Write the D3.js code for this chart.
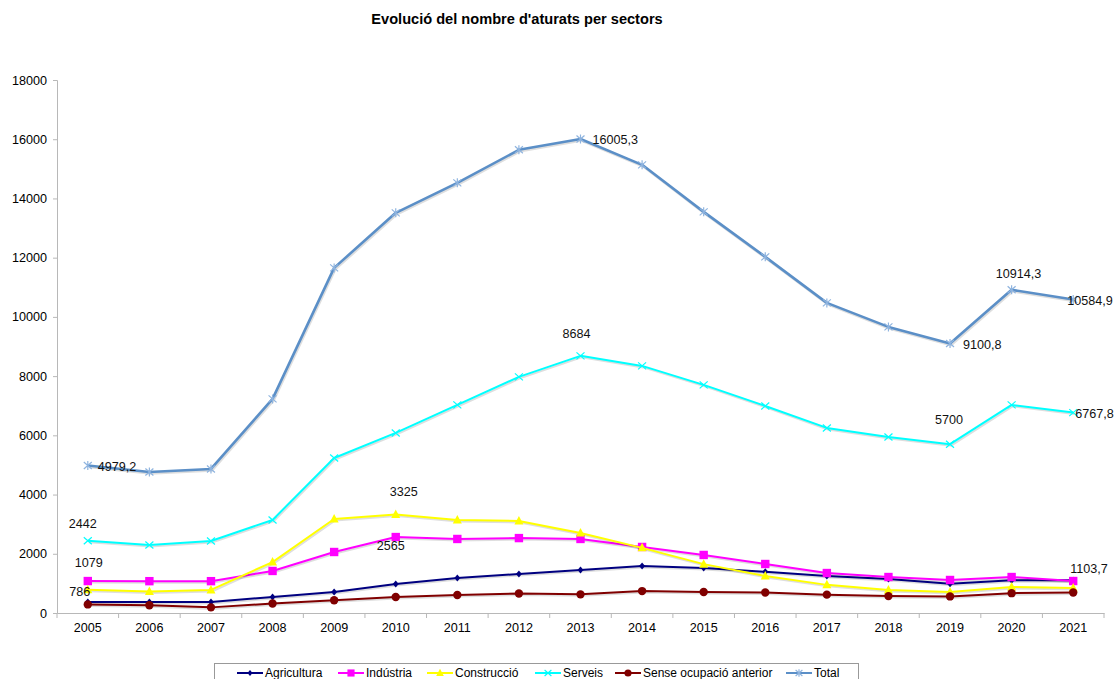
<!DOCTYPE html>
<html><head><meta charset="utf-8">
<script src="https://cdn.jsdelivr.net/npm/d3@7"></script>
<style>
body{margin:0;background:#fff;}
svg text{font-family:"Liberation Sans",Arial,sans-serif;}
</style></head>
<body><svg id="c" width="1114" height="679"></svg>
<script>
const years = ["2005","2006","2007","2008","2009","2010","2011","2012","2013","2014","2015","2016","2017","2018","2019","2020","2021"];
const agricultura = [370,370,370,540,710,980,1180,1320,1450,1590,1520,1390,1250,1150,990,1110,1103.7];
const industria = [1079,1075,1075,1420,2060,2565,2500,2530,2500,2230,1960,1655,1350,1215,1115,1215,1080];
const construccio = [786,725,780,1720,3175,3325,3140,3110,2700,2200,1650,1250,950,780,710,880,845];
const serveis = [2442,2297,2432,3142,5236,6081,7027,7973,8684,8345,7703,6993,6250,5946,5700,7027,6767.8];
const senseOcupacio = [290,260,190,320,430,540,610,660,630,740,710,690,620,570,560,670,690];
const total = [4979.2,4764,4865,7230,11655,13514,14527,15642,16005.3,15135,13547,12027,10473,9662,9100.8,10914.3,10584.9];
const yTicks = [0,2000,4000,6000,8000,10000,12000,14000,16000,18000];
const seriesNames = ["Agricultura","Indústria","Construcció","Serveis","Sense ocupació anterior","Total"];
const title = "Evolució del nombre d'aturats per sectors";
// value labels: [series index, year index, text]
const valueLabels = [
  [5,0,"4979,2"],[3,0,"2442"],[1,0,"1079"],[2,0,"786"],
  [2,5,"3325"],[1,5,"2565"],[5,8,"16005,3"],[3,8,"8684"],
  [5,14,"9100,8"],[5,15,"10914,3"],[5,16,"10584,9"],
  [3,14,"5700"],[3,16,"6767,8"],[0,16,"1103,7"]
];

// style config
const colors = ["#000080","#ff00ff","#ffff00","#00ffff","#800000","#5b8fc7"];
const markerColors = ["#000080","#ff00ff","#ffff00","#00ffff","#800000","#8fb4df"];
const markers = ["diamond","square","triangle","x","circle","star"];
const widths = [2,2,2,2,2,2.6];
// label placement [dx, dy, anchor]
const labelPos = [
  [10,5,"start"],[-5,-13,"middle"],[1,-14,"middle"],[-8,6,"middle"],
  [8,-19,"middle"],[-5,13,"middle"],[12,5,"start"],[-4,-18,"middle"],
  [13,5,"start"],[7,-12,"middle"],[-6,5,"start"],
  [-1,-20,"middle"],[2,5,"start"],[-3,-7,"start"]
];

const data = [agricultura,industria,construccio,serveis,senseOcupacio,total];
const svg = d3.select("#c");
const mLeft=57, mRight=1104, mTop=80, mBottom=613;
const fs = 12.6;

const xb = d3.scaleBand().domain(years).range([mLeft,mRight]).paddingInner(0).paddingOuter(0);
const x = d => xb(d)+xb.bandwidth()/2;
const y = d3.scaleLinear().domain([0,18000]).range([mBottom,mTop]);

svg.append("text").attr("x",517).attr("y",24).attr("text-anchor","middle")
  .attr("font-weight","bold").attr("font-size",14.6).attr("fill","#000").text(title);

const axisColor = "#b8b8b8";
const ya = svg.append("g").attr("transform",`translate(${mLeft},0)`)
  .call(d3.axisLeft(y).tickValues(yTicks).tickSize(4).tickPadding(6).tickFormat(d3.format("d")));
ya.select(".domain").attr("stroke",axisColor);
ya.selectAll(".tick line").attr("stroke",axisColor);
ya.selectAll("text").attr("font-size",fs).attr("fill","#000").attr("font-family","Liberation Sans, Arial, sans-serif");

const xa = svg.append("g").attr("transform",`translate(0,${mBottom})`)
  .call(d3.axisBottom(xb).tickSize(0).tickPadding(10));
xa.select(".domain").attr("stroke",axisColor);
xa.selectAll("text").attr("font-size",fs).attr("fill","#000").attr("font-family","Liberation Sans, Arial, sans-serif");
const edges = years.map(d=>xb(d)).concat([mRight]);
svg.append("g").selectAll("line").data(edges).join("line")
  .attr("x1",d=>d).attr("x2",d=>d).attr("y1",mBottom).attr("y2",mBottom+5).attr("stroke",axisColor);

function drawMarker(g, type, cx, cy, col, scale){
  const s = scale||1;
  if(type==="diamond"){
    g.append("path").attr("d",`M${cx},${cy-3.5*s}L${cx+3*s},${cy}L${cx},${cy+3.5*s}L${cx-3*s},${cy}Z`).attr("fill",col);
  } else if(type==="square"){
    g.append("rect").attr("x",cx-4.2*s).attr("y",cy-4.2*s).attr("width",8.4*s).attr("height",8.4*s).attr("fill",col);
  } else if(type==="triangle"){
    g.append("path").attr("d",`M${cx},${cy-5*s}L${cx+4.5*s},${cy+3.5*s}L${cx-4.5*s},${cy+3.5*s}Z`).attr("fill",col);
  } else if(type==="circle"){
    g.append("circle").attr("cx",cx).attr("cy",cy).attr("r",4.2*s).attr("fill",col);
  } else if(type==="x"){
    g.append("path").attr("d",`M${cx-4*s},${cy-3.5*s}L${cx+4*s},${cy+3.5*s}M${cx-4*s},${cy+3.5*s}L${cx+4*s},${cy-3.5*s}`).attr("stroke",col).attr("stroke-width",1.2);
  } else if(type==="star"){
    g.append("path").attr("d",`M${cx-4*s},${cy-3.5*s}L${cx+4*s},${cy+3.5*s}M${cx-4*s},${cy+3.5*s}L${cx+4*s},${cy-3.5*s}M${cx},${cy-4.5*s}L${cx},${cy+4.5*s}`).attr("stroke",col).attr("stroke-width",1.2);
  }
}

const line = d3.line().x((d,i)=>x(years[i])).y(d=>y(d));
data.forEach((vals,si)=>{
  const g = svg.append("g");
  g.append("path").datum(vals).attr("d",line).attr("fill","none")
    .attr("stroke","rgba(0,0,0,0.13)").attr("stroke-width",widths[si]).attr("transform","translate(1,1.5)");
  g.append("path").datum(vals).attr("d",line).attr("fill","none")
    .attr("stroke",colors[si]).attr("stroke-width",widths[si]).attr("stroke-linejoin","round");
  vals.forEach((v,i)=>drawMarker(g,markers[si],x(years[i]),y(v),markerColors[si]));
});

valueLabels.forEach((l,k)=>{
  const [si,yi,t]=l; const [dx,dy,anc]=labelPos[k];
  svg.append("text").attr("x",x(years[yi])+dx).attr("y",y(data[si][yi])+dy)
    .attr("text-anchor",anc).attr("font-size",fs).attr("fill","#111").text(t);
});

svg.append("rect").attr("x",214.5).attr("y",663.5).attr("width",644).attr("height",30)
  .attr("fill","#fff").attr("stroke","#999");
const legX = [237,338,427,535,615,786];
seriesNames.forEach((n,si)=>{
  const lx = legX[si], ly = 673;
  svg.append("line").attr("x1",lx).attr("x2",lx+26).attr("y1",ly).attr("y2",ly)
    .attr("stroke",colors[si]).attr("stroke-width",2);
  drawMarker(svg.append("g"),markers[si],lx+13,ly,markerColors[si],0.85);
  svg.append("text").attr("x",lx+28).attr("y",ly+4).attr("font-size",12).attr("fill","#000").text(n);
});
</script></body></html>
